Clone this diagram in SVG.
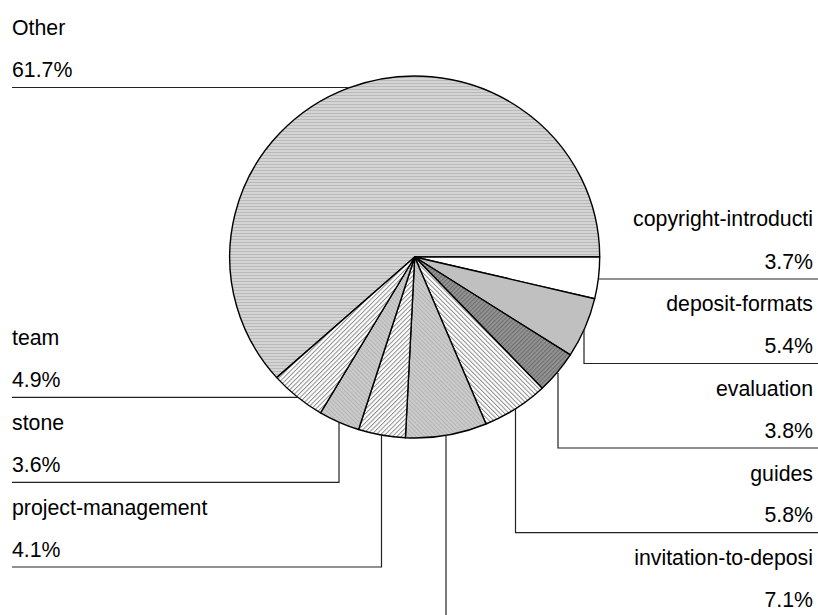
<svg xmlns="http://www.w3.org/2000/svg" width="818" height="615" viewBox="0 0 818 615">
<style>
.slice{stroke:#000;stroke-width:1.4;stroke-linejoin:round}
.lbl{font-family:"Liberation Sans",Arial,sans-serif;font-size:21.3px;fill:#000}
.r{text-anchor:end}
.lead{fill:none;stroke:#222;stroke-width:1.2}
</style>
<defs>
<pattern id="pOther" patternUnits="userSpaceOnUse" width="8" height="3">
<rect width="8" height="3" fill="#d4d4d4"/>
<rect y="2" width="8" height="1" fill="#b9b9b9"/>
</pattern>
<pattern id="pEval" patternUnits="userSpaceOnUse" width="3" height="3" patternTransform="rotate(45)">
<rect width="3" height="3" fill="#969696"/>
<rect width="1.2" height="3" fill="#6e6e6e"/>
</pattern>
<pattern id="pWhiteA" patternUnits="userSpaceOnUse" width="3.2" height="3.2" patternTransform="rotate(45)">
<rect width="3.2" height="3.2" fill="#ffffff"/>
<rect width="1" height="3.2" fill="#8c8c8c"/>
</pattern>
<pattern id="pWhiteB" patternUnits="userSpaceOnUse" width="3.2" height="3.2" patternTransform="rotate(-45)">
<rect width="3.2" height="3.2" fill="#ffffff"/>
<rect width="1" height="3.2" fill="#8c8c8c"/>
</pattern>
<pattern id="pGray" patternUnits="userSpaceOnUse" width="3" height="3" patternTransform="rotate(-45)">
<rect width="3" height="3" fill="#cbcbcb"/>
<rect width="1" height="3" fill="#b4b4b4"/>
</pattern>
</defs>
<rect width="818" height="615" fill="#fff"/>

<g id="slice-other">
<path class="slice" fill="url(#pOther)" d="M414.7,257 L276.7,377.6 A185,181 0 1 1 599.7,257 Z"/>
<text class="lbl" x="12" y="35">Other</text>
<text class="lbl" x="12" y="77">61.7%</text>
</g>
<g id="slice-copyright">
<path class="slice" fill="#ffffff" d="M414.7,257 L599.7,257 A185,181 0 0 1 594.7,298.7 Z"/>
<text class="lbl r" x="813" y="226">copyright-introducti</text>
<text class="lbl r" x="813" y="268.5">3.7%</text>
</g>
<g id="slice-deposit-formats">
<path class="slice" fill="#c0c0c0" d="M414.7,257 L594.7,298.7 A185,181 0 0 1 570.3,354.9 Z"/>
<text class="lbl r" x="813" y="311">deposit-formats</text>
<text class="lbl r" x="813" y="353">5.4%</text>
</g>
<g id="slice-evaluation">
<path class="slice" fill="url(#pEval)" d="M414.7,257 L570.3,354.9 A185,181 0 0 1 542.2,388.2 Z"/>
<text class="lbl r" x="813" y="396">evaluation</text>
<text class="lbl r" x="813" y="437.5">3.8%</text>
</g>
<g id="slice-guides">
<path class="slice" fill="url(#pWhiteB)" d="M414.7,257 L542.2,388.2 A185,181 0 0 1 486,424 Z"/>
<text class="lbl r" x="813" y="480.5">guides</text>
<text class="lbl r" x="813" y="522">5.8%</text>
</g>
<g id="slice-invitation">
<path class="slice" fill="url(#pGray)" d="M414.7,257 L486,424 A185,181 0 0 1 405.4,437.8 Z"/>
<text class="lbl r" x="813" y="565">invitation-to-deposi</text>
<text class="lbl r" x="813" y="606.5">7.1%</text>
</g>
<g id="slice-project-management">
<path class="slice" fill="url(#pWhiteA)" d="M414.7,257 L405.4,437.8 A185,181 0 0 1 358.6,429.5 Z"/>
<text class="lbl" x="12" y="515">project-management</text>
<text class="lbl" x="12" y="556.5">4.1%</text>
</g>
<g id="slice-stone">
<path class="slice" fill="url(#pGray)" d="M414.7,257 L358.6,429.5 A185,181 0 0 1 320.5,412.8 Z"/>
<text class="lbl" x="12" y="430">stone</text>
<text class="lbl" x="12" y="471.8">3.6%</text>
</g>
<g id="slice-team">
<path class="slice" fill="url(#pWhiteA)" d="M414.7,257 L320.5,412.8 A185,181 0 0 1 276.7,377.6 Z"/>
<text class="lbl" x="12" y="345">team</text>
<text class="lbl" x="12" y="387">4.9%</text>
</g>

<g id="connectors">
<path class="lead" d="M348.8,87.5 H12"/>
<path class="lead" d="M598.4,279 H818"/>
<path class="lead" d="M584,329 V363.5 H818"/>
<path class="lead" d="M558,373 V448 H818"/>
<path class="lead" d="M515.5,409 V532.7 H818"/>
<path class="lead" d="M446,435.5 V620"/>
<path class="lead" d="M381.5,435.3 V567 H12"/>
<path class="lead" d="M339,422.3 V482.3 H12"/>
<path class="lead" d="M297.2,397.3 H12"/>
</g>
</svg>
